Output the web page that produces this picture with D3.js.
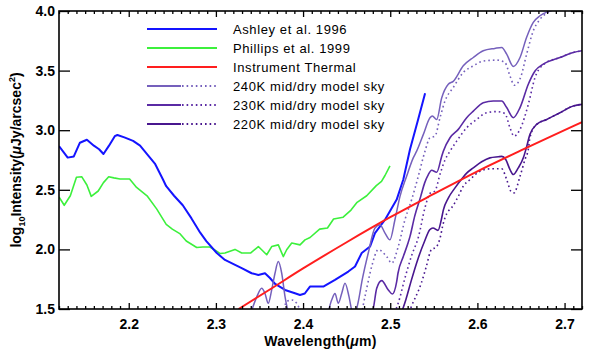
<!DOCTYPE html>
<html><head><meta charset="utf-8">
<script src="https://cdn.jsdelivr.net/npm/d3@7"></script>
<style>
html,body{margin:0;padding:0;background:#fff;}
svg text{font-family:"Liberation Sans",Arial,sans-serif;fill:#000;}
</style></head>
<body><svg id="c" width="600" height="356"></svg>
<script>
// ---- data: [wavelength (µm), log10 intensity] ----
const ashley = [[2.12,2.866],[2.130,2.77],[2.137,2.78],[2.144,2.895],[2.152,2.92],[2.160,2.87],[2.166,2.84],[2.171,2.80],[2.177,2.866],[2.184,2.95],[2.187,2.96],[2.195,2.94],[2.205,2.91],[2.213,2.87],[2.221,2.80],[2.230,2.72],[2.239,2.59],[2.243,2.53],[2.252,2.45],[2.262,2.37],[2.272,2.26],[2.282,2.14],[2.289,2.07],[2.301,1.97],[2.3104,1.912],[2.322,1.87],[2.3296,1.843],[2.341,1.80],[2.3487,1.786],[2.3563,1.80],[2.362,1.76],[2.368,1.71],[2.3793,1.66],[2.3907,1.632],[2.3965,1.618],[2.402,1.63],[2.4079,1.688],[2.4232,1.688],[2.4366,1.744],[2.4519,1.814],[2.4596,1.856],[2.4673,1.97],[2.4768,2.024],[2.4825,2.137],[2.494,2.249],[2.5074,2.418],[2.515,2.586],[2.5227,2.84],[2.532,3.09],[2.540,3.31]];
const phillips = [[2.12,2.44],[2.126,2.37],[2.133,2.45],[2.140,2.605],[2.146,2.61],[2.152,2.54],[2.157,2.445],[2.165,2.49],[2.171,2.56],[2.177,2.61],[2.183,2.60],[2.190,2.59],[2.201,2.59],[2.209,2.52],[2.221,2.45],[2.232,2.34],[2.243,2.21],[2.250,2.17],[2.259,2.13],[2.266,2.07],[2.278,2.016],[2.285,2.02],[2.293,2.02],[2.300,1.99],[2.305,1.965],[2.3104,1.97],[2.3219,2.0],[2.3296,1.97],[2.340,1.97],[2.3487,2.024],[2.3583,1.955],[2.364,2.024],[2.3716,2.038],[2.3773,1.94],[2.3812,1.997],[2.387,2.053],[2.3965,2.038],[2.4022,2.08],[2.408,2.10],[2.419,2.17],[2.428,2.18],[2.435,2.255],[2.446,2.27],[2.455,2.33],[2.462,2.395],[2.473,2.45],[2.484,2.535],[2.490,2.57],[2.494,2.62],[2.4997,2.70]];
const thermal = [[2.326,1.50],[2.36,1.655],[2.40,1.84],[2.45,2.06],[2.50,2.27],[2.55,2.465],[2.60,2.655],[2.65,2.83],[2.70,3.00],[2.72,3.068]];
const sky240 = [[2.338,1.42],[2.3468,1.60],[2.3525,1.674],[2.3563,1.63],[2.3601,1.548],[2.364,1.66],[2.3678,1.80],[2.3716,1.898],[2.3755,1.80],[2.3793,1.604],[2.3824,1.49],[2.386,1.40],[2.40,1.35],[2.415,1.38],[2.426,1.42],[2.4328,1.576],[2.4366,1.63],[2.4404,1.548],[2.4443,1.63],[2.4481,1.716],[2.4527,1.604],[2.4558,1.49],[2.459,1.45],[2.463,1.55],[2.468,1.75],[2.4748,1.97],[2.4825,2.18],[2.4882,2.207],[2.494,2.137],[2.4997,2.08],[2.5054,2.249],[2.5112,2.445],[2.5188,2.614],[2.5264,2.768],[2.5303,2.824],[2.538,2.965],[2.5456,3.105],[2.5483,3.12],[2.5533,3.09],[2.559,3.27],[2.5666,3.386],[2.5723,3.41],[2.5838,3.54],[2.5953,3.61],[2.6067,3.666],[2.620,3.686],[2.6279,3.694],[2.6336,3.638],[2.6412,3.535],[2.6489,3.61],[2.6565,3.78],[2.6641,3.905],[2.6718,3.96],[2.687,4.01],[2.700,4.05],[2.720,4.09]];
const sky240d = [[2.376,1.42],[2.3812,1.562],[2.387,1.576],[2.3927,1.548],[2.3965,1.49],[2.400,1.42],[2.430,1.35],[2.465,1.42],[2.471,1.604],[2.4787,1.856],[2.4863,1.997],[2.4959,1.94],[2.5017,1.885],[2.5092,2.024],[2.5169,2.249],[2.5246,2.418],[2.5322,2.614],[2.5399,2.824],[2.5456,2.937],[2.5513,2.95],[2.5571,3.105],[2.5628,3.245],[2.5723,3.358],[2.5838,3.484],[2.5953,3.54],[2.6067,3.58],[2.6221,3.588],[2.6316,3.568],[2.6374,3.455],[2.6423,3.377],[2.6489,3.43],[2.6565,3.638],[2.6641,3.834],[2.6718,3.93],[2.6813,3.99],[2.690,4.02],[2.720,4.09]];
const sky230 = [[2.478,1.45],[2.4806,1.506],[2.4845,1.674],[2.4902,1.738],[2.4978,1.66],[2.5024,1.626],[2.5074,1.73],[2.5089,1.80],[2.515,1.94],[2.5204,2.053],[2.5227,2.109],[2.528,2.277],[2.535,2.445],[2.5395,2.558],[2.5437,2.628],[2.5475,2.664],[2.5533,2.647],[2.559,2.78],[2.5609,2.824],[2.5686,2.937],[2.5781,3.007],[2.5877,3.105],[2.5953,3.16],[2.6067,3.231],[2.6182,3.245],[2.6279,3.245],[2.6336,3.19],[2.6412,3.105],[2.6489,3.19],[2.6584,3.386],[2.6661,3.497],[2.6756,3.554],[2.6947,3.61],[2.710,3.652],[2.720,3.666]];
const sky230d = [[2.500,1.40],[2.5092,1.55],[2.5169,1.76],[2.5246,1.95],[2.5322,2.10],[2.5399,2.35],[2.5456,2.47],[2.5513,2.49],[2.5571,2.63],[2.5628,2.75],[2.5686,2.824],[2.5762,2.908],[2.5877,3.02],[2.5992,3.09],[2.6106,3.147],[2.6221,3.156],[2.6316,3.139],[2.6374,3.02],[2.642,2.95],[2.6489,3.007],[2.6584,3.217],[2.6661,3.442],[2.6756,3.55],[2.6947,3.61],[2.710,3.652],[2.720,3.666]];
const sky220 = [[2.512,1.45],[2.518,1.58],[2.5242,1.74],[2.5318,1.92],[2.5395,2.07],[2.5453,2.165],[2.549,2.18],[2.5548,2.16],[2.5586,2.249],[2.5609,2.33],[2.5666,2.43],[2.5743,2.516],[2.582,2.59],[2.5877,2.64],[2.5953,2.684],[2.6049,2.735],[2.6144,2.768],[2.624,2.777],[2.6279,2.78],[2.6325,2.754],[2.6374,2.67],[2.6412,2.628],[2.6469,2.684],[2.6527,2.768],[2.6557,2.84],[2.6603,2.965],[2.668,3.049],[2.6795,3.09],[2.6947,3.147],[2.710,3.203],[2.720,3.217]];
const sky220d = [[2.518,1.40],[2.5242,1.52],[2.5356,1.716],[2.5414,1.856],[2.5471,1.997],[2.5528,2.02],[2.557,2.09],[2.5609,2.22],[2.5648,2.30],[2.5705,2.35],[2.5781,2.445],[2.5838,2.53],[2.5915,2.586],[2.603,2.656],[2.6144,2.676],[2.6279,2.676],[2.6336,2.586],[2.6385,2.487],[2.642,2.474],[2.6489,2.614],[2.6546,2.754],[2.6584,2.84],[2.6603,2.94],[2.668,3.049],[2.6795,3.09],[2.6947,3.147],[2.710,3.203],[2.720,3.217]];

const xMajor = [2.2,2.3,2.4,2.5,2.6,2.7];
const yMajor = [1.5,2.0,2.5,3.0,3.5,4.0];
const legendLabels = ["Ashley et al. 1996","Phillips et al. 1999","Instrument Thermal","240K mid/dry model sky","230K mid/dry model sky","220K mid/dry model sky"];

// ---- drawing ----
const svg = d3.select("#c");
const L=59,R=582,T=11,B=309;
const x = d3.scaleLinear().domain([2.12,2.72]).range([L,R]);
const y = d3.scaleLinear().domain([1.5,4.0]).range([B,T]);

const C = {blue:"#1414ff",green:"#3cf03c",red:"#ff1e1e",p240:"#7560bc",p230:"#5a2aa4",p220:"#48168e"};

svg.append("defs").append("clipPath").attr("id","clip")
  .append("rect").attr("x",L).attr("y",T).attr("width",R-L).attr("height",B-T);

const line = d3.line().x(d=>x(d[0])).y(d=>y(d[1]));
const sline = d3.line().x(d=>x(d[0])).y(d=>y(d[1])).curve(d3.curveMonotoneX);
const g = svg.append("g").attr("clip-path","url(#clip)");

const series = [
  {d:phillips,c:C.green,w:1.6,f:line},
  {d:ashley,c:C.blue,w:2,f:line},
  {d:sky240d,c:C.p240,w:1.6,f:sline,dash:"1.6,3"},
  {d:sky230d,c:C.p230,w:1.6,f:sline,dash:"1.6,3"},
  {d:sky220d,c:C.p220,w:1.6,f:sline,dash:"1.6,3"},
  {d:sky240,c:C.p240,w:1.5,f:sline},
  {d:sky230,c:C.p230,w:1.6,f:sline},
  {d:sky220,c:C.p220,w:1.6,f:sline},
  {d:thermal,c:C.red,w:2,f:sline}
];
series.forEach(s=>{
  g.append("path").attr("d",s.f(s.d)).attr("fill","none")
   .attr("stroke",s.c).attr("stroke-width",s.w)
   .attr("stroke-dasharray",s.dash||null).attr("stroke-linejoin","round");
});

// axes
const minor = d3.range(2.12,2.7201,0.01).map(v=>+v.toFixed(2)).filter(v=>!xMajor.includes(v));
function styleAxis(sel){sel.select(".domain").remove();sel.selectAll("line").attr("stroke","#000").attr("stroke-width",1.3);}
svg.append("g").attr("transform",`translate(0,${B})`)
  .call(d3.axisBottom(x).tickValues(xMajor).tickSize(-6).tickPadding(10).tickFormat(d3.format(".1f")))
  .call(styleAxis).call(s=>s.selectAll("text").attr("font-size",14).attr("font-weight","bold"));
svg.append("g").attr("transform",`translate(0,${B})`)
  .call(d3.axisBottom(x).tickValues(minor).tickSize(-3).tickFormat("")).call(styleAxis);
svg.append("g").attr("transform",`translate(0,${T})`)
  .call(d3.axisTop(x).tickValues(xMajor).tickSize(-6).tickFormat("")).call(styleAxis);
svg.append("g").attr("transform",`translate(0,${T})`)
  .call(d3.axisTop(x).tickValues(minor).tickSize(-3).tickFormat("")).call(styleAxis);
svg.append("g").attr("transform",`translate(${L},0)`)
  .call(d3.axisLeft(y).tickValues(yMajor).tickSize(-11).tickPadding(4).tickFormat(d3.format(".1f")))
  .call(styleAxis).call(s=>s.selectAll("text").attr("font-size",14).attr("font-weight","bold"));
svg.append("g").attr("transform",`translate(${R},0)`)
  .call(d3.axisRight(y).tickValues(yMajor).tickSize(-11).tickFormat("")).call(styleAxis);

svg.append("rect").attr("x",L).attr("y",T).attr("width",R-L).attr("height",B-T)
  .attr("fill","none").attr("stroke","#000").attr("stroke-width",1.6);

// axis titles
svg.append("text").attr("x",(L+R)/2).attr("y",346).attr("text-anchor","middle")
  .attr("font-size",14).attr("font-weight","bold").attr("letter-spacing",0.3)
  .call(t=>{t.append("tspan").text("Wavelength(");t.append("tspan").attr("font-style","italic").text("μ");t.append("tspan").text("m)");});
const yl = svg.append("text").attr("transform",`translate(21,${(T+B)/2}) rotate(-90)`)
  .attr("text-anchor","middle").attr("font-size",14).attr("font-weight","bold");
yl.append("tspan").text("log");
yl.append("tspan").attr("font-size",9).attr("dy",4).text("10");
yl.append("tspan").attr("dy",-4).text("Intensity(");
yl.append("tspan").attr("font-style","italic").text("μ");
yl.append("tspan").text("Jy/arcsec");
yl.append("tspan").attr("font-size",9).attr("dy",-6).text("2");
yl.append("tspan").attr("dy",6).text(")");

// legend
const legColors=[C.blue,C.green,C.red,C.p240,C.p230,C.p220];
const leg = svg.append("g");
legendLabels.forEach((lab,i)=>{
  const yy = 29 + i*19;
  if(i<3){
    leg.append("line").attr("x1",147).attr("x2",217).attr("y1",yy).attr("y2",yy)
      .attr("stroke",legColors[i]).attr("stroke-width",2);
  } else {
    leg.append("line").attr("x1",147).attr("x2",181).attr("y1",yy).attr("y2",yy)
      .attr("stroke",legColors[i]).attr("stroke-width",1.8);
    leg.append("line").attr("x1",182).attr("x2",217).attr("y1",yy).attr("y2",yy)
      .attr("stroke",legColors[i]).attr("stroke-width",1.8).attr("stroke-dasharray","1.6,3");
  }
  leg.append("text").attr("x",233).attr("y",yy+4.5).attr("font-size",13).attr("letter-spacing",0.6).text(lab);
});
</script></body></html>
